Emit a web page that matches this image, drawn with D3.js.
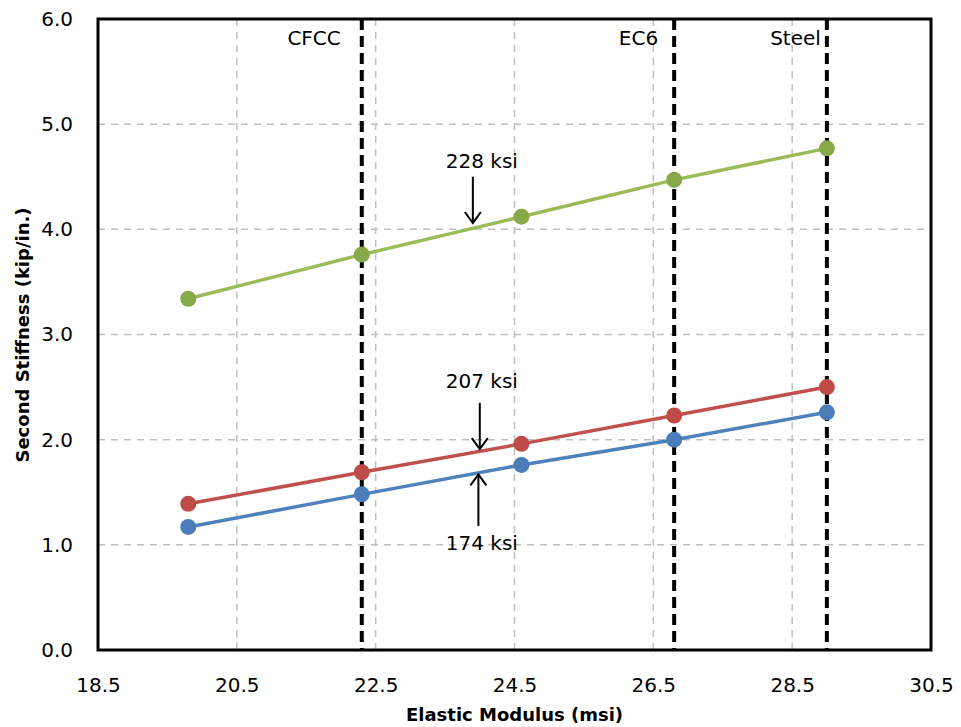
<!DOCTYPE html>
<html>
<head>
<meta charset="utf-8">
<script src="https://cdn.jsdelivr.net/npm/d3@7"></script>
<style>
  html, body { margin: 0; padding: 0; background: #fff; }
  svg { display: block; }
  text { font-family: "DejaVu Sans", sans-serif; fill: #000; }
</style>
</head>
<body>
<svg id="chart" width="961" height="727"></svg>
<script>
// ---- data ----
const elasticModulus = [19.8, 22.3, 24.6, 26.8, 29.0];
const stiffness174 = [1.17, 1.48, 1.76, 2.00, 2.26];
const stiffness207 = [1.39, 1.69, 1.96, 2.23, 2.50];
const stiffness228 = [3.34, 3.76, 4.12, 4.47, 4.77];
const seriesNames = ["174 ksi", "207 ksi", "228 ksi"];
const refValues = [22.3, 26.8, 29.0];
const refLabels = ["CFCC", "EC6", "Steel"];
const xTicks = [18.5, 20.5, 22.5, 24.5, 26.5, 28.5, 30.5];
const yTicks = [0, 1, 2, 3, 4, 5, 6];
// annotation: label, arrow x, label y, arrow tail y, arrow tip y
const annoLabels = ["228 ksi", "207 ksi", "174 ksi"];
const annoX = [23.9, 24.0, 23.98];
const annoTextY = [4.58, 2.49, 0.95];
const annoTail = [4.50, 2.35, 1.18];
const annoTip = [4.06, 1.91, 1.67];
const annoTextX = [24.03, 24.03, 24.03];

// ---- layout / style ----
const L = 98, R = 931, T = 19, B = 650;
const colors = { "174 ksi": "#4F81BD", "207 ksi": "#C0504D", "228 ksi": "#9BBB59" };
const markerColors = { "174 ksi": "#4A7DBA", "207 ksi": "#BE4B48", "228 ksi": "#87A94A" };
const refLabelGap = [21, 16, 6];

const svg = d3.select("#chart");
const x = d3.scaleLinear().domain([18.5, 30.5]).range([L, R]);
const y = d3.scaleLinear().domain([0, 6]).range([B, T]);

// gridlines
const grid = svg.append("g");
grid.selectAll("line.h").data(yTicks.filter(v => v > 0 && v < 6)).join("line")
  .attr("x1", L).attr("x2", R).attr("y1", d => y(d)).attr("y2", d => y(d))
  .attr("stroke", "#bfbfbf").attr("stroke-width", 1.5).attr("stroke-dasharray", "7,6");
grid.selectAll("line.v").data(xTicks.filter(v => v > 18.5 && v < 30.5)).join("line")
  .attr("y1", T).attr("y2", B).attr("x1", d => x(d)).attr("x2", d => x(d))
  .attr("stroke", "#bfbfbf").attr("stroke-width", 1.5).attr("stroke-dasharray", "7,6");

// reference lines
svg.append("g").selectAll("line").data(refValues).join("line")
  .attr("x1", d => x(d)).attr("x2", d => x(d)).attr("y1", T).attr("y2", B)
  .attr("stroke", "#000").attr("stroke-width", 4).attr("stroke-dasharray", "11,6");
svg.append("g").selectAll("text").data(refValues).join("text")
  .attr("x", (d, i) => x(d) - refLabelGap[i]).attr("y", 45)
  .attr("text-anchor", "end").attr("font-size", 20)
  .text((d, i) => refLabels[i]);

// axes (tick labels)
const xAxis = d3.axisBottom(x).tickValues(xTicks).tickFormat(d3.format(".1f")).tickSize(0).tickPadding(0);
const gx = svg.append("g").attr("transform", `translate(0,${B})`).call(xAxis);
gx.select(".domain").remove();
gx.selectAll("text").attr("font-size", 20).attr("font-family", "DejaVu Sans").attr("dy", null).attr("y", 42).attr("fill", "#000");

const yAxis = d3.axisLeft(y).tickValues(yTicks).tickFormat(d3.format(".1f")).tickSize(0).tickPadding(0);
const gy = svg.append("g").attr("transform", `translate(${L},0)`).call(yAxis);
gy.select(".domain").remove();
gy.selectAll("text").attr("font-size", 20).attr("font-family", "DejaVu Sans").attr("x", -25).attr("fill", "#000");

// series
const series = [stiffness174, stiffness207, stiffness228];
const line = d3.line().x((d, i) => x(elasticModulus[i])).y(d => y(d));
series.forEach((vals, si) => {
  const name = seriesNames[si];
  svg.append("path").datum(vals).attr("d", line)
    .attr("fill", "none").attr("stroke", colors[name]).attr("stroke-width", 3.5);
  svg.append("g").selectAll("circle").data(vals).join("circle")
    .attr("cx", (d, i) => x(elasticModulus[i])).attr("cy", d => y(d)).attr("r", 8)
    .attr("fill", markerColors[name]);
});

// plot border
svg.append("rect").attr("x", L).attr("y", T).attr("width", R - L).attr("height", B - T)
  .attr("fill", "none").attr("stroke", "#000").attr("stroke-width", 3);

// annotations
const anno = svg.append("g");
annoLabels.forEach((lab, i) => {
  const ax = x(annoX[i]), t0 = y(annoTail[i]), t1 = y(annoTip[i]);
  const dir = t1 > t0 ? 1 : -1;
  anno.append("line").attr("x1", ax).attr("x2", ax).attr("y1", t0).attr("y2", t1)
    .attr("stroke", "#000").attr("stroke-width", 2);
  anno.append("path")
    .attr("d", `M${ax - 8},${t1 - dir * 11}L${ax},${t1}L${ax + 8},${t1 - dir * 11}`)
    .attr("fill", "none").attr("stroke", "#000").attr("stroke-width", 2);
  anno.append("text").attr("x", x(annoTextX[i])).attr("y", y(annoTextY[i]))
    .attr("text-anchor", "middle").attr("font-size", 20).text(lab);
});

// axis titles
svg.append("text").attr("x", (L + R) / 2).attr("y", 721).attr("text-anchor", "middle")
  .attr("font-size", 18).attr("font-weight", "bold").text("Elastic Modulus (msi)");
svg.append("text").attr("transform", "translate(29,335) rotate(-90)").attr("text-anchor", "middle")
  .attr("font-size", 18).attr("font-weight", "bold").text("Second Stiffness (kip/in.)");
</script>
</body>
</html>
